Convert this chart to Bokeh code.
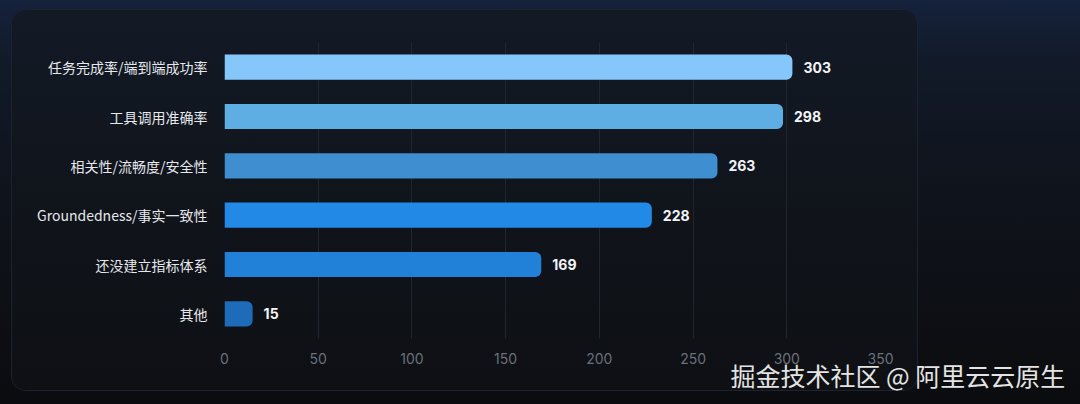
from bokeh.plotting import figure
from bokeh.models import ColumnDataSource, Range1d, FactorRange, FixedTicker, LabelSet
from bokeh.core.properties import value
from bokeh.embed import file_html
from bokeh.resources import INLINE

categories = ["任务完成率/端到端成功率", "工具调用准确率", "相关性/流畅度/安全性",
              "Groundedness/事实一致性", "还没建立指标体系", "其他"]
counts = [303, 298, 263, 228, 169, 15]
colors = ["#85C6FB", "#5EADE3", "#3E8ED0", "#2389E6", "#2180D8", "#1E6BB9"]
x_ticks = [0, 50, 100, 150, 200, 250, 300, 350]
watermark = ["掘金技术社区 @ 阿里云云原生"]

src = ColumnDataSource(dict(cat=categories, val=counts, color=colors,
                            lab=[str(v) for v in counts]))

# main chart (the card)
p = figure(width=905, height=380, output_backend="svg", toolbar_location=None,
           y_range=FactorRange(*reversed(categories)), x_range=Range1d(0, 350),
           min_border_left=212, min_border_right=37, min_border_top=32, min_border_bottom=52,
           styles={"position": "absolute", "left": "12px", "top": "10px",
                   "border-radius": "14px", "box-shadow": "0 0 0 1px #1b2230",
                   "background": "linear-gradient(180deg,#131a26 0%,#10141b 50%,#0e1014 100%)"})
p.background_fill_alpha = 0
p.border_fill_alpha = 0
p.outline_line_color = None

p.hbar(y="cat", right="val", left=0, height=0.51, color="color", source=src,
       border_radius=(0, 6, 6, 0), line_color=None)

labels = LabelSet(x="val", y="cat", text="lab", source=src, x_offset=11,
                  text_baseline="middle", text_font=value("Inter"), text_font_style="bold",
                  text_font_size="14px", text_color="#f2f4f7")
p.add_layout(labels)

p.xaxis.ticker = FixedTicker(ticks=x_ticks)
p.xaxis.axis_line_color = None
p.xaxis.major_tick_line_color = None
p.xaxis.minor_tick_line_color = None
p.xaxis.major_label_standoff = 8
p.xaxis.major_label_text_font = "Inter"
p.xaxis.major_label_text_font_size = "14px"
p.xaxis.major_label_text_color = "#6a707a"

p.yaxis.axis_line_color = None
p.yaxis.major_tick_line_color = None
p.yaxis.major_label_standoff = 11
p.yaxis.major_label_text_font = "Noto Sans CJK SC"
p.yaxis.major_label_text_font_size = "14px"
p.yaxis.major_label_text_color = "#e6e8ec"

p.xgrid.grid_line_color = "#20262f"
p.xgrid.grid_line_width = 1
p.ygrid.grid_line_color = None

# watermark overlay
w = figure(width=350, height=40, output_backend="svg", toolbar_location=None,
           x_range=Range1d(0, 1), y_range=Range1d(0, 1), x_axis_type=None, y_axis_type=None,
           min_border=0, min_border_left=0, min_border_right=0, min_border_top=0, min_border_bottom=0,
           styles={"position": "absolute", "left": "724px", "top": "354px"})
w.background_fill_alpha = 0
w.border_fill_alpha = 0
w.outline_line_color = None
w.grid.grid_line_color = None
w.text(x=[0], y=[0.5], text=watermark, x_offset=6, text_baseline="middle", text_align="left",
       text_font=value("Noto Sans CJK SC"), text_font_size="25px", text_color="#e4e4e4")

html = file_html([p, w], INLINE)
css = ("<style>html,body{background:linear-gradient(180deg,#15223c 0px,#121a29 60px,"
       "#0f131b 200px,#0b0c0f 404px) no-repeat;background-color:#0b0c0f;min-height:404px;"
       "overflow:hidden;}</style></head>")
html = html.replace("</head>", css, 1)
open("out.html", "w").write(html)
